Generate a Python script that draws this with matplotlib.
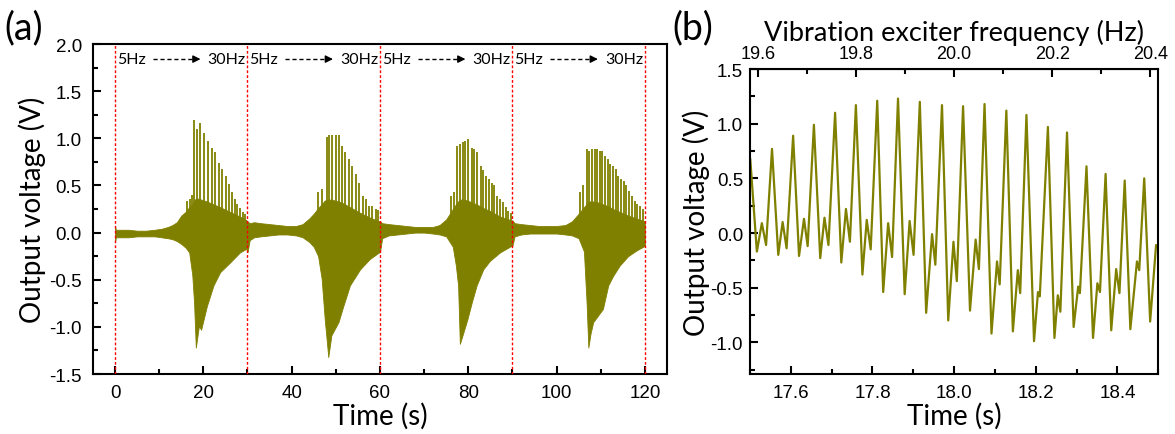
import numpy as np
import matplotlib
matplotlib.use("Agg")
import matplotlib.pyplot as plt
from matplotlib.ticker import MultipleLocator, FormatStrFormatter

# ---- panel (a): 4 sweeps 5Hz -> 30Hz ----
# envelope of the dense signal (upper base / lower edge)
t_env = [0, 0.2, 1, 3, 5, 7, 9, 10.5, 12, 13, 14, 15, 16, 16.8, 17.5, 17.9, 18.3, 19.0, 19.5, 20.8, 22.3, 23.8, 26.0, 28.3, 29.8,
         30.0, 30.5, 31.5, 33, 35, 37, 39, 41, 42.5, 44, 45, 46, 46.8, 47.5, 48.3, 49.0, 49.8, 50.6, 51.7, 53.2, 55.5, 57.7, 59.8,
         60.0, 60.5, 62, 64, 66, 68, 70, 72, 73.5, 75, 76.5, 77.2, 77.7, 78.1, 78.9, 79.8, 80.8, 81.9, 83.4, 84.9, 87.2, 89.8,
         90.0, 90.5, 92, 94, 96, 98, 100, 102, 103.5, 105, 106.2, 106.8, 107.2, 107.7, 108.3, 109.4, 110.5, 111.7, 112.8, 114.3,
         116.2, 118.1, 120]
up_env = [0.07, 0.03, 0.03, 0.03, 0.02, 0.02, 0.03, 0.04, 0.06, 0.08, 0.11, 0.18, 0.22, 0.27, 0.30, 0.34, 0.36, 0.36, 0.35, 0.33,
          0.30, 0.27, 0.22, 0.17, 0.13,
          0.12, 0.10, 0.11, 0.10, 0.09, 0.08, 0.07, 0.07, 0.09, 0.15, 0.2, 0.26, 0.30, 0.34, 0.35, 0.35, 0.34, 0.33, 0.31, 0.27,
          0.21, 0.16, 0.12,
          0.12, 0.10, 0.09, 0.08, 0.07, 0.06, 0.06, 0.06, 0.08, 0.14, 0.25, 0.30, 0.33, 0.35, 0.35, 0.34, 0.32, 0.30, 0.26, 0.23,
          0.17, 0.13,
          0.13, 0.10, 0.09, 0.08, 0.07, 0.07, 0.07, 0.08, 0.12, 0.2, 0.27, 0.30, 0.33, 0.33, 0.33, 0.32, 0.30, 0.28, 0.25, 0.22,
          0.18, 0.15, 0.12]
lo_env = [-0.10, -0.05, -0.05, -0.05, -0.04, -0.04, -0.04, -0.05, -0.06, -0.07, -0.09, -0.12, -0.16, -0.21, -0.45, -0.74,
          -1.22, -0.99, -1.03, -0.78, -0.56, -0.42, -0.32, -0.21, -0.17,
          -0.21, -0.08, -0.05, -0.04, -0.03, -0.02, -0.02, -0.03, -0.05, -0.10, -0.15, -0.25, -0.49, -0.92, -1.32, -1.09, -1.02,
          -0.95, -0.78, -0.56, -0.39, -0.28, -0.21,
          -0.21, -0.06, -0.03, -0.02, -0.01, 0.0, 0.0, -0.01, -0.02, -0.04, -0.15, -0.35, -0.56, -1.18, -1.06, -0.92, -0.74,
          -0.56, -0.39, -0.30, -0.21, -0.14,
          -0.14, -0.04, -0.02, -0.01, -0.01, -0.01, -0.01, -0.02, -0.03, -0.06, -0.2, -0.74, -1.22, -1.07, -0.95, -0.88, -0.81,
          -0.56, -0.46, -0.35, -0.25, -0.19, -0.14]

# resonance spikes on the top edge
spike_t = [16.4, 17.0, 17.5, 17.95, 18.63, 19.24, 20.22, 21.12, 21.89, 22.64, 23.55, 24.23, 25.06, 25.81, 26.56, 27.17,
           27.69, 28.3, 28.9, 29.5,
           46.0, 46.8, 47.9, 48.5, 49.2, 50.0, 50.7, 51.5, 52.2, 53.0, 53.7, 54.5, 55.2, 56.1, 56.8, 57.5, 58.3, 59.0, 59.6,
           76.0, 76.7, 77.5, 78.1, 78.7, 79.3, 80.0, 80.8, 81.4, 82.0, 82.8, 83.4, 84.0, 84.7, 85.3, 85.9, 86.6, 87.2, 87.8,
           88.5, 89.0, 89.6,
           105.3, 106.0, 106.8, 107.4, 108.0, 108.6, 109.2, 109.8, 110.4, 111.0, 111.6, 112.2, 112.8, 113.4, 114.0, 114.6,
           115.2, 115.8, 116.4, 117.0, 117.7, 118.3, 118.9, 119.5]
spike_v = [0.33, 0.36, 0.40, 1.19, 1.10, 1.16, 1.06, 0.97, 0.90, 0.85, 0.74, 0.67, 0.60, 0.52, 0.43, 0.36,
           0.30, 0.26, 0.22, 0.20,
           0.43, 0.46, 1.01, 1.03, 1.04, 1.04, 1.04, 0.92, 0.85, 0.78, 0.71, 0.62, 0.53, 0.39, 0.36, 0.28, 0.28, 0.25, 0.24,
           0.39, 0.43, 0.92, 0.94, 0.96, 0.97, 0.99, 0.90, 0.89, 0.85, 0.71, 0.66, 0.60, 0.57, 0.53, 0.50, 0.39, 0.36, 0.32,
           0.27, 0.23, 0.21,
           0.43, 0.50, 0.89, 0.87, 0.89, 0.89, 0.89, 0.87, 0.87, 0.81, 0.78, 0.73, 0.71, 0.67, 0.60, 0.57,
           0.55, 0.50, 0.44, 0.39, 0.34, 0.30, 0.28, 0.25]

sweep_edges = [0, 30, 60, 90, 120]

# ---- panel (b): zoom 17.5 - 18.5 s, local extrema of the trace ----
t_zoom = [17.5006, 17.5168, 17.5290, 17.5394, 17.5539, 17.5692, 17.5799, 17.5896, 17.6056, 17.6201, 17.6322, 17.6412,
          17.6565, 17.6720, 17.6824, 17.6921, 17.7084, 17.7236, 17.7350, 17.7447, 17.7593, 17.7753, 17.7859, 17.7956,
          17.8116, 17.8262, 17.8383, 17.8480, 17.8625, 17.8788, 17.8909, 17.9006, 17.9159, 17.9314, 17.9459, 17.9539,
          17.9702, 17.9855, 17.9983, 18.0065, 18.0218, 18.0388, 18.0526, 18.0606, 18.0744, 18.0914, 18.1050, 18.1115,
          18.1278, 18.1438, 18.1559, 18.1617, 18.1770, 18.1956, 18.2053, 18.2097, 18.2296, 18.2456, 18.2538, 18.2601,
          18.2764, 18.2926, 18.3038, 18.3079, 18.3241, 18.3401, 18.3508, 18.3571, 18.3709, 18.3847, 18.3968, 18.4048,
          18.4177, 18.4315, 18.4477, 18.4533, 18.4655, 18.4800, 18.4945]
v_zoom = [0.68, -0.17, 0.09, -0.11, 0.77, -0.20, 0.10, -0.14, 0.89, -0.21, 0.13, -0.12,
          0.99, -0.23, 0.14, -0.11, 1.10, -0.27, 0.22, -0.08, 1.17, -0.38, 0.12, -0.15,
          1.21, -0.54, 0.09, -0.22, 1.23, -0.56, 0.11, -0.20, 1.20, -0.73, -0.01, -0.29,
          1.17, -0.80, -0.08, -0.44, 1.16, -0.71, -0.06, -0.33, 1.18, -0.92, -0.26, -0.47,
          1.12, -0.90, -0.34, -0.55, 1.08, -0.99, -0.54, -0.58, 0.97, -0.96, -0.57, -0.72,
          0.92, -0.86, -0.49, -0.55, 0.61, -0.96, -0.46, -0.54, 0.54, -0.89, -0.33, -0.55,
          0.48, -0.88, -0.26, -0.34, 0.50, -0.81, -0.11]

olive = "#808000"
lab_font = ["Lato", "DejaVu Sans"]
tick_font = "Liberation Sans"

plt.rcParams["font.family"] = tick_font
plt.rcParams["xtick.labelsize"] = 13.5
plt.rcParams["ytick.labelsize"] = 13.5


def style_axis(a, ypad):
    a.yaxis.set_major_locator(MultipleLocator(0.5))
    a.yaxis.set_minor_locator(MultipleLocator(0.25))
    a.yaxis.set_major_formatter(FormatStrFormatter("%.1f"))
    a.tick_params(which="both", direction="in", width=1.5, top=False, right=False)
    a.tick_params(which="major", length=6)
    a.tick_params(which="minor", length=3.5)
    a.tick_params(axis="y", which="major", pad=ypad)
    a.tick_params(axis="x", which="major", pad=7)
    for sp in a.spines.values():
        sp.set_linewidth(1.5)


fig = plt.figure(figsize=(11.75, 4.35), dpi=100)

# ---------------- (a) ----------------
ax = fig.add_axes([0.0791, 0.1379, 0.4885, 0.7586])
ax.fill_between(t_env, lo_env, up_env, color=olive, lw=0.6, zorder=2)
ax.vlines(spike_t, 0, spike_v, color=olive, lw=1.3, zorder=2)
for x in sweep_edges:
    ax.axvline(x, color="red", ls=(0, (2, 1.5)), lw=1.0, zorder=3)

for s in sweep_edges[:-1]:
    ax.text(s + 0.4, 1.84, "5Hz", family=lab_font, fontsize=11.5, ha="left", va="center")
    ax.text(s + 29.6, 1.84, "30Hz", family=lab_font, fontsize=11.5, ha="right", va="center")
    ax.plot([s + 8.6, s + 17.6], [1.84, 1.84], color="k", ls=(0, (3, 2)), lw=1.0)
    ax.annotate("", xy=(s + 20.0, 1.84), xytext=(s + 17.5, 1.84),
                arrowprops=dict(arrowstyle="-|>", color="k", lw=1.0, mutation_scale=11))

ax.set_xlim(-5, 125)
ax.set_ylim(-1.5, 2.0)
ax.xaxis.set_major_locator(MultipleLocator(20))
ax.xaxis.set_minor_locator(MultipleLocator(10))
style_axis(ax, 8)
ax.set_xlabel("Time (s)", family=lab_font, fontsize=20, labelpad=1)
ax.set_ylabel("Output voltage (V)", family=lab_font, fontsize=20, labelpad=2)

# ---------------- (b) ----------------
bx = fig.add_axes([0.6383, 0.1379, 0.3475, 0.7011])
bx.plot(t_zoom, v_zoom, color=olive, lw=1.6, solid_joinstyle="round", solid_capstyle="round")
bx.set_xlim(17.5, 18.5)
bx.set_ylim(-1.29, 1.5)
bx.xaxis.set_major_locator(MultipleLocator(0.2))
bx.xaxis.set_minor_locator(MultipleLocator(0.1))
style_axis(bx, 5)
bx.set_xlabel("Time (s)", family=lab_font, fontsize=20, labelpad=1)
bx.set_ylabel("Output voltage (V)", family=lab_font, fontsize=20, labelpad=0)

# frequency axis: linear sweep 5 -> 30 Hz over 30 s
top = bx.secondary_xaxis("top", functions=(lambda t: 5 + t * 25 / 30, lambda f: (f - 5) * 30 / 25))
top.xaxis.set_major_locator(MultipleLocator(0.2))
top.xaxis.set_minor_locator(MultipleLocator(0.1))
top.xaxis.set_major_formatter(FormatStrFormatter("%.1f"))
top.tick_params(which="both", direction="in", width=1.5, labelsize=13)
top.tick_params(which="major", length=6, pad=5)
top.tick_params(which="minor", length=3.5)
top.set_xlabel("Vibration exciter frequency (Hz)", family=lab_font, fontsize=19.5, labelpad=4)

fig.text(0.004, 0.935, "(a)", family=lab_font, fontsize=27, va="center", ha="left")
fig.text(0.572, 0.935, "(b)", family=lab_font, fontsize=27, va="center", ha="left")

fig.savefig("out.png", dpi=100)
